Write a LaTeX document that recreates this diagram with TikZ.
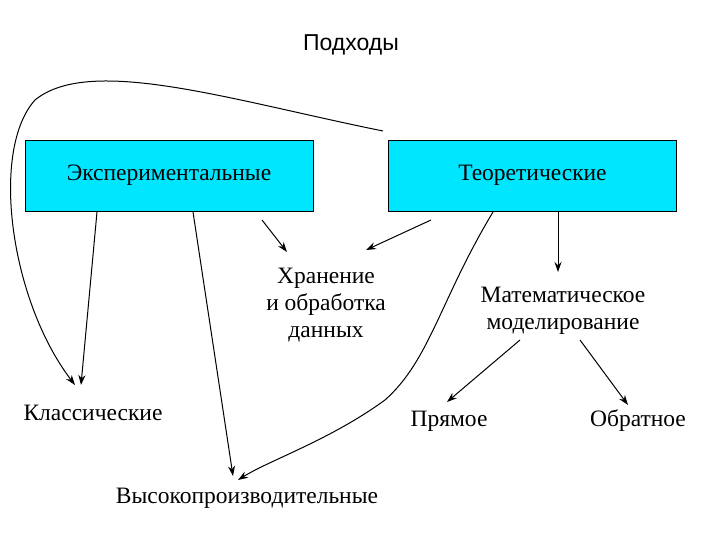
\documentclass[tikz,border=0pt]{standalone}
\usepackage{fontspec}
\setmainfont{Liberation Serif}
\newfontfamily\arial{Liberation Sans}
\usetikzlibrary{arrows.meta}
\definecolor{boxc}{RGB}{0,230,255}
\begin{document}
\begin{tikzpicture}[x=1pt,y=-1pt,
  bx/.style={draw=black,line width=0.9pt,fill=boxc,minimum width=288pt,minimum height=71pt,font=\fontsize{23.5}{27}\selectfont},
  lbl/.style={font=\fontsize{23.5}{27}\selectfont,align=center},
  ar/.style={-{Stealth[length=10pt,width=7pt]},line width=1pt}]
\useasboundingbox (0,0) rectangle (720,540);
\node[font=\arial\fontsize{23}{27}\selectfont] (t) at (351,45) {Подходы};
\node[bx] (e) at (169,175.5) {Экспериментальные};
\node[bx] (th) at (532.5,175.5) {Теоретические};
\node[lbl] (h) at (326,305) {Хранение\\и обработка\\данных};
\node[lbl] (m) at (563,311) {Математическое\\моделирование};
\node[lbl] (k) at (93,413) {Классические};
\node[lbl] (p) at (449,421) {Прямое};
\node[lbl] (o) at (638,421) {Обратное};
\node[lbl] (v) at (247,498) {Высокопроизводительные};
\coordinate (c1) at (383,131);
\draw[ar] (c1) .. controls (230,100) and (90,55) .. (35,100) .. controls (-10,150) and (10,300) .. (75,385);
\draw[ar] (97,212) -- (81,385);
\draw[ar] (193,212) -- (233,476);
\draw[ar] (262,220) -- (287,252);
\draw[ar] (431,220) -- (366,250);
\draw[ar] (558,212) -- (558,272);
\draw[ar] (493,212) .. controls (440,300) and (430,360) .. (385,400) .. controls (330,440) and (270,460) .. (238,480);
\draw[ar] (520,340) -- (447,402);
\draw[ar] (580,340) -- (628,405);
\end{tikzpicture}
\end{document}
